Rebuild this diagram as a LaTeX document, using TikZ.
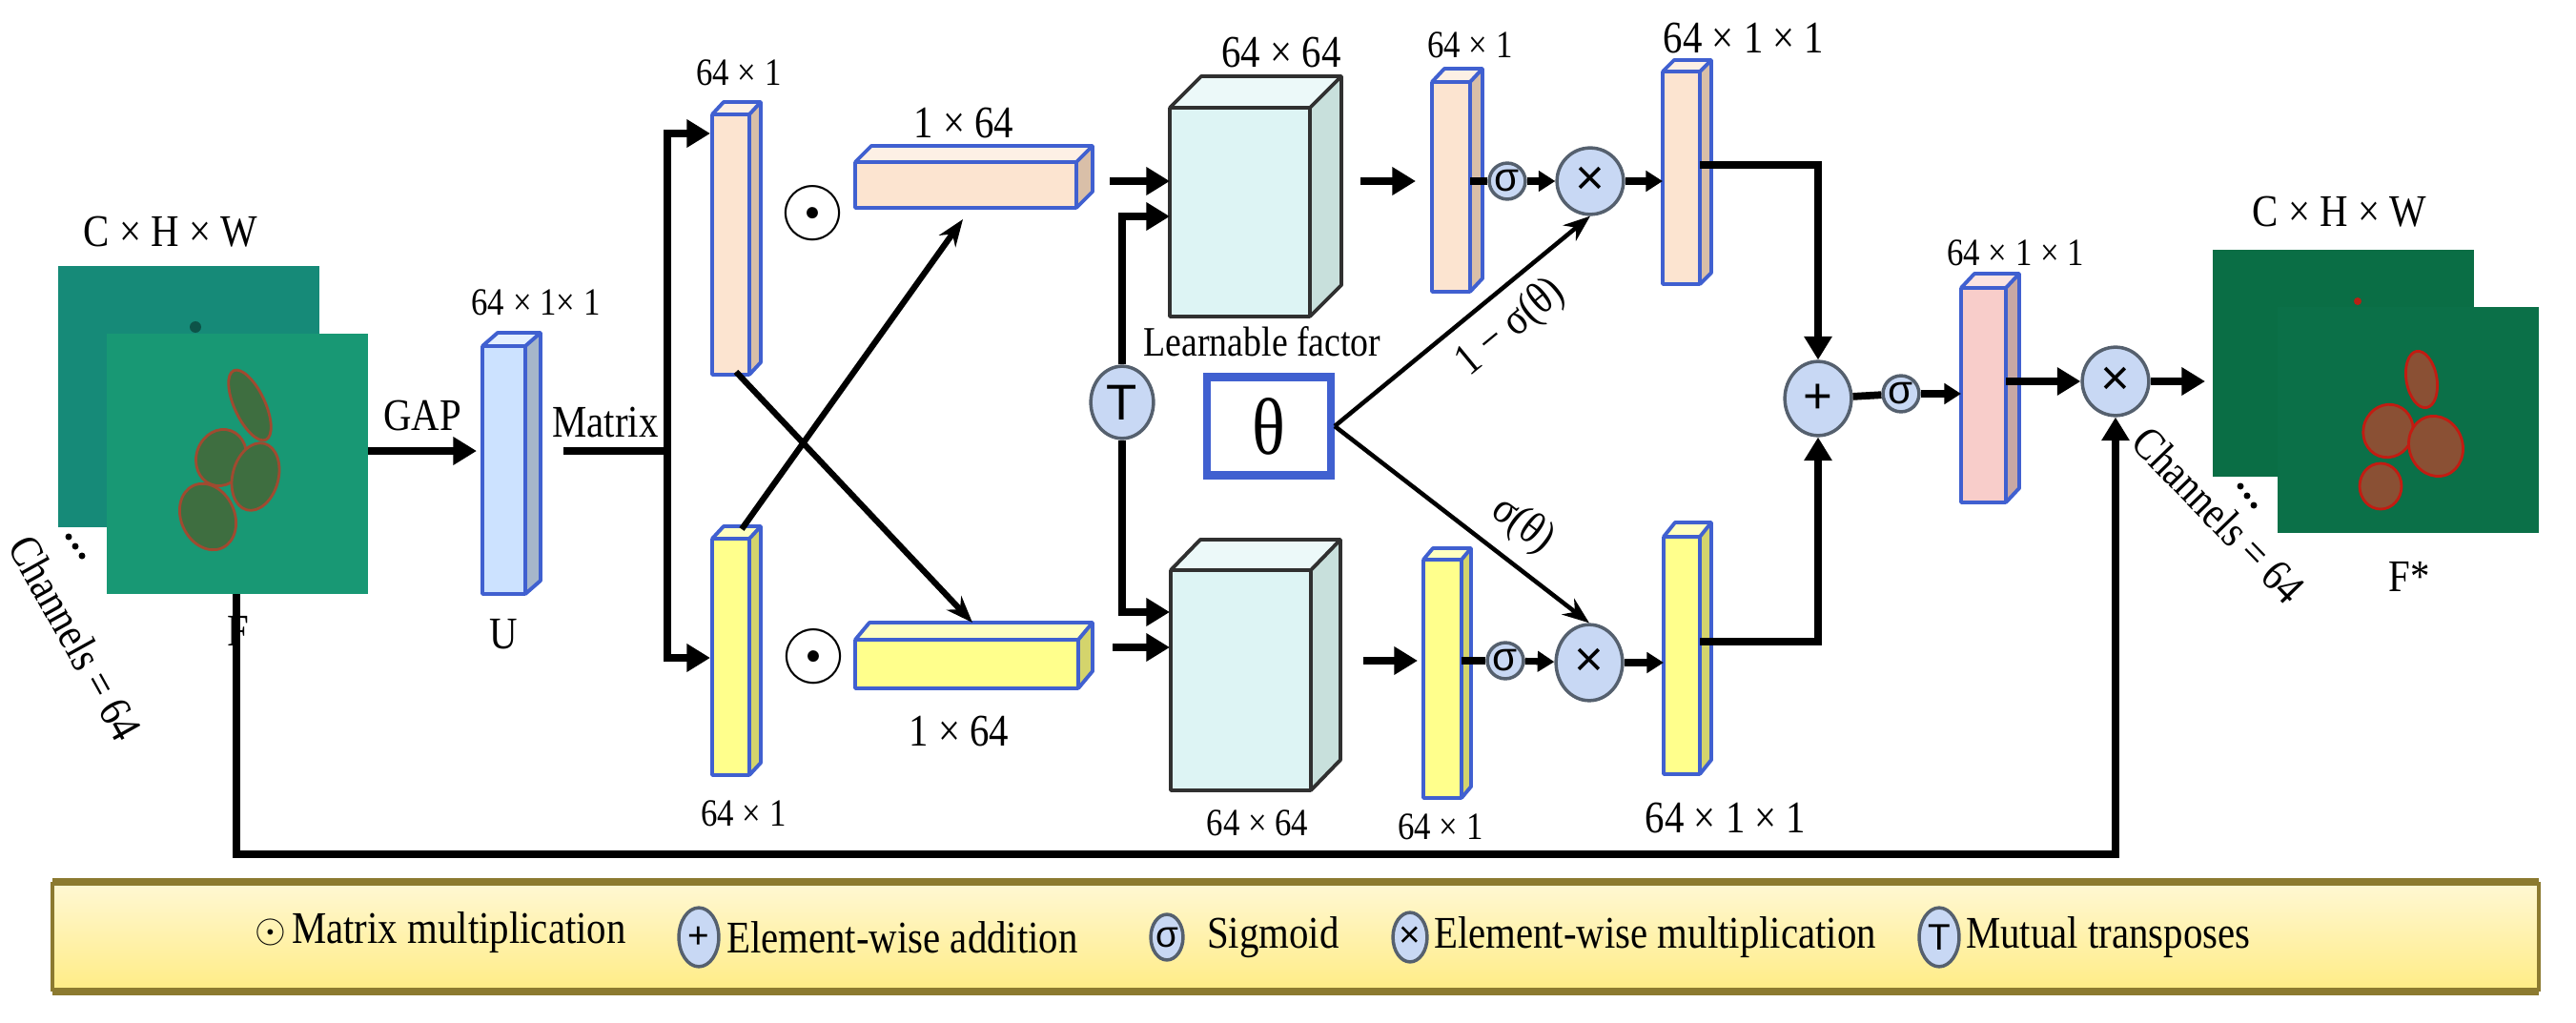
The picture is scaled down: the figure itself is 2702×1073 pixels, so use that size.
\documentclass[tikz,border=0pt]{standalone}
\usepackage{fontspec}
\setmainfont{Liberation Serif}[FakeStretch=0.86]
\newfontfamily\sans{Liberation Sans}
\usetikzlibrary{arrows.meta,calc,shapes.geometric}
\definecolor{orF}{HTML}{FCE4D0}\definecolor{orS}{HTML}{D9BFA8}
\definecolor{yeF}{HTML}{FFFF8C}\definecolor{yeS}{HTML}{D4D46C}
\definecolor{buF}{HTML}{CCE2FF}\definecolor{buS}{HTML}{A6B6CA}
\definecolor{piF}{HTML}{F8CDCA}\definecolor{piS}{HTML}{C8A8A4}
\definecolor{bxF}{HTML}{DDF4F4}\definecolor{bxS}{HTML}{C8E0DC}
\definecolor{edB}{HTML}{4060D0}\definecolor{edK}{HTML}{303030}
\definecolor{ciF}{HTML}{C8D8F4}\definecolor{ciD}{HTML}{55606E}
\definecolor{mapA}{HTML}{168A78}\definecolor{mapB}{HTML}{189874}
\definecolor{mapC}{HTML}{0A6E45}\definecolor{mapD}{HTML}{0B7048}
\definecolor{lgF}{HTML}{FFF3B8}\definecolor{lgD}{HTML}{8C7A30}
\definecolor{leafG}{HTML}{3E6E40}\definecolor{leafR}{HTML}{A04A30}
\newcommand\cub[9]{%
 \fill[#7] (#1,#2) rectangle ++(#3,#4);
 \fill[#7!55!white] (#1,#2) -- ++(#5,#6) -- ++(#3,0) -- (#1+#3,#2) -- cycle;
 \fill[#8] (#1+#3,#2) -- ++(#5,#6) -- ++(0,#4) -- (#1+#3,#2+#4) -- cycle;
 \draw[#9,line width=1.1pt,line join=round] (#1,#2) rectangle ++(#3,#4)
   (#1,#2) -- ++(#5,#6) -- ++(#3,0) -- ++(0,#4) -- (#1+#3,#2+#4)
   (#1+#3,#2) -- ++(#5,#6);}
\newcommand\pxs[1]{#1pt*0.01/0.0352778}
\tikzset{
 lab/.style={font=\fontsize{11.5}{12}\selectfont,inner sep=1pt},
 big/.style={font=\fontsize{13.5}{14}\selectfont,inner sep=1pt},
 op/.style={circle,draw=ciD,fill=ciF,line width=1pt,inner sep=0pt,font=\sans\fontsize{15}{15}\selectfont},
 sg/.style={op,minimum size=\pxs{38},font=\sans\fontsize{12}{12}\selectfont},
 ar/.style={-{Triangle[length=7pt,width=8pt]},line width=2.2pt},
 sar/.style={-{Triangle[length=5pt,width=6pt]},line width=2pt},
 ln/.style={line width=2.2pt},
 thin/.style={-{Stealth[length=8pt,width=6pt]},line width=1.3pt},
 leg/.style={font=\fontsize{13.5}{14}\selectfont,anchor=west,inner sep=1pt},
 lop/.style={ellipse,draw=ciD,fill=ciF,line width=1pt,inner sep=0pt,font=\sans\fontsize{11}{11}\selectfont},
}
\begin{document}
\begin{tikzpicture}[x=0.01cm,y=-0.01cm]
\useasboundingbox (0,0) rectangle (2702,1073);
% input feature maps
\fill[mapA] (61,279) rectangle (335,553);
\fill[mapB] (112,350) rectangle (386,623);
\foreach \a/\cx/\cy/\rx/\ry in {25/262/425/16/40,-20/232/480/26/30,-15/268/500/24/36,25/218/542/28/36}
  \draw[fill=leafG,draw=leafR,line width=0.8pt,rotate around={\a:(\cx,\cy)}] (\cx,\cy) ellipse ({\rx} and {\ry});
\fill[black!40!mapA] (205,343) circle (6);
\node[big] (chw1) at (179,243) {C × H × W};
\node[big] (F) at (250,662) {F};
\foreach \d in {0,1,2} \fill (72+7*\d,563+10*\d) circle (3.5);
\path (34,588) -- (124,750) node[midway,sloped,big] {Channels = 64};
\coordinate (Fout) at (386,473);
\coordinate (Fbot) at (248,623);
% U
\cub{506}{363}{45}{260}{16}{-14}{buF}{buS}{edB}
\node[lab] at (562,317) {64 × 1× 1};
\node[big] at (528,665) {U};
\coordinate (Uin) at (500,473);\coordinate (Uout) at (591,473);
\draw[ar] (Fout) -- node[above,big,yshift=4pt]{GAP} (Uin);
\node[big] at (635,443) {Matrix};
\coordinate (sp) at (700,473);\coordinate (spT) at (700,140);\coordinate (spB) at (700,690);
\draw[ln] (Uout) -- (sp);
\draw[ar] (sp) -- (spT) -- (745,140);
\draw[ar] (sp) -- (spB) -- (745,690);
% left bars
\cub{747}{120}{39}{273}{12}{-13}{orF}{orS}{edB}
\node[lab] at (775,76) {64 × 1};
\cub{747}{565}{39}{248}{12}{-13}{yeF}{yeS}{edB}
\node[lab] at (780,853) {64 × 1};
\node[font=\Huge] at (853,224) {$\odot$};
\node[font=\Huge] at (854,689) {$\odot$};
% 1x64 bars
\cub{897}{170}{232}{48}{17}{-17}{orF}{orS}{edB}
\node[big] at (1011,129) {1 × 64};
\cub{897}{671}{234}{51}{15}{-18}{yeF}{yeS}{edB}
\node[big] at (1006,767) {1 × 64};
\coordinate (oTb) at (772,390);\coordinate (yTt) at (1020,653);
\coordinate (yLt) at (778,555);\coordinate (oRb) at (1010,230);
\draw[thin,line width=1.8pt] (oTb) -- (yTt);
\draw[thin,line width=1.8pt] (yLt) -- (oRb);
% big boxes
\cub{1227}{113}{147}{219}{33}{-33}{bxF}{bxS}{edK}
\node[big] at (1344,55) {64 × 64};
\node[font=\fontsize{12.5}{13}\selectfont,inner sep=1pt] at (1324,358) {Learnable factor};
\cub{1228}{598}{147}{231}{31}{-32}{bxF}{bxS}{edK}
\node[lab] at (1319,863) {64 × 64};
\draw[ar] (1164,190) -- (1227,190);
\draw[ar] (1167,679) -- (1227,679);
\node[op,ellipse,minimum width=\pxs{66},minimum height=\pxs{76}] (T) at (1177,422) {T};
\draw[ar] (T.north) -- (T.north|-0,227) -- (1227,227);
\draw[ar] (T.south) -- (T.south|-0,642) -- (1227,642);
% theta
\node[draw=edB,line width=2.4pt,minimum width=\pxs{130},minimum height=\pxs{103},font=\fontsize{24}{24}\selectfont] (th) at (1331,447) {θ};
% upper branch
\draw[ar] (1427,190) -- (1485,190);
\cub{1502}{86}{40}{220}{13}{-14}{orF}{orS}{edB}
\node[lab] at (1542,47) {64 × 1};
\node[sg] (s1) at (1581,190) {σ};
\node[op,minimum size=\pxs{70}] (m1) at (1668,190) {×};
\draw[ln] (1542,190) -- (s1);
\draw[sar] (s1) -- (m1);
\cub{1744}{75}{39}{223}{12}{-12}{orF}{orS}{edB}
\node[big] at (1829,40) {64 × 1 × 1};
\draw[sar] (m1) -- (1744,190);
% lower branch
\draw[ar] (1430,693) -- (1487,693);
\cub{1493}{587}{40}{250}{10}{-12}{yeF}{yeS}{edB}
\node[lab] at (1511,867) {64 × 1};
\node[sg] (s2) at (1579,693) {σ};
\node[op,ellipse,minimum width=\pxs{70},minimum height=\pxs{80}] (m2) at (1667,695) {×};
\draw[ln] (1533,693) -- (s2);
\draw[sar] (s2) -- (m2);
\cub{1745}{563}{38}{249}{12}{-15}{yeF}{yeS}{edB}
\node[big] at (1810,858) {64 × 1 × 1};
\draw[sar] (m2) -- (1745,695);
% theta lines
\draw[thin] (th.east) -- node[sloped,below,big,pos=0.6,yshift=-3pt]{1 − σ(θ)} (m1.south);
\draw[thin] (th.east) -- node[sloped,above,big,pos=0.65,yshift=3pt]{σ(θ)} (m2.north);
% merge
\node[op,ellipse,minimum width=\pxs{70},minimum height=\pxs{78}] (add) at (1907,418) {+};
\draw[ar] (1783,173) -- (1907,173) -- (add.north);
\draw[ar] (1783,673) -- (1907,673) -- (add.south);
\node[sg] (s3) at (1994,413) {σ};
\draw[ln] (add) -- (s3);
\cub{2057}{302}{47}{225}{14}{-15}{piF}{piS}{edB}
\draw[sar] (s3) -- (2057,413);
\node[lab] at (2114,265) {64 × 1 × 1};
\node[op,ellipse,minimum width=\pxs{70},minimum height=\pxs{72}] (m3) at (2219,400) {×};
\draw[ar] (2104,400) -- (m3);
% output maps
\fill[mapC] (2321,262) rectangle (2595,500);
\fill[mapD] (2389,322) rectangle (2663,559);
\foreach \a/\cx/\cy/\rx/\ry in {10/2540/398/16/30,-20/2505/452/26/28,20/2555/468/28/32,0/2497/510/22/24}
  \draw[fill=leafR!85!mapD,draw=red!75!mapD,line width=0.8pt,rotate around={\a:(\cx,\cy)}] (\cx,\cy) ellipse ({\rx} and {\ry});
\fill[red!70!mapC] (2473,316) circle (4);
\coordinate (Fin) at (2313,400);
\draw[ar] (m3) -- (Fin);
\node[big] at (2454,222) {C × H × W};
\node[big] at (2527,605) {F*};
\foreach \d in {0,1,2} \fill (2350+7*\d,510+10*\d) circle (3.5);
\path (2245,455) -- (2410,625) node[midway,sloped,big] {Channels = 64};
% skip
\draw[ar] (Fbot) -- (248,896) -- (2219,896) -- (m3.south);
% legend
\shade[top color=lgF!60!white,bottom color=lgF!90!orange!80!yellow] (55,925) rectangle (2663,1040);
\draw[lgD,line width=2.5pt] (55,925) -- (2663,925) (55,1040) -- (2663,1040);
\draw[lgD,line width=1pt] (55,925) -- (55,1040) (2663,925) -- (2663,1040);
\node[font=\large] at (284,978) {$\odot$};
\node[leg] at (302,978) {Matrix multiplication};
\node[lop,minimum width=\pxs{42},minimum height=\pxs{62}] at (733,983) {+};
\node[leg] at (758,983) {Element-wise addition};
\node[lop,minimum width=\pxs{34},minimum height=\pxs{48}] at (1224,983) {σ};
\node[leg] at (1262,983) {Sigmoid};
\node[lop,minimum width=\pxs{36},minimum height=\pxs{52}] at (1479,983) {×};
\node[leg] at (1500,983) {Element-wise multiplication};
\node[lop,minimum width=\pxs{42},minimum height=\pxs{62}] at (2034,983) {T};
\node[leg] at (2058,983) {Mutual transposes};
\end{tikzpicture}
\end{document}
